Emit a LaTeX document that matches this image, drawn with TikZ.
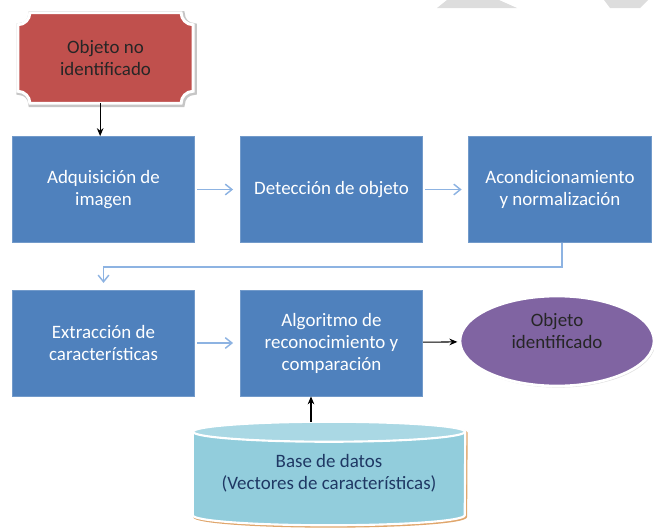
\documentclass[tikz,border=0pt]{standalone}
\usepackage{fontspec}
\setmainfont{Carlito}
\usetikzlibrary{arrows.meta,shapes.geometric,calc,backgrounds,shadows}
\definecolor{cajaazul}{RGB}{79,129,189}
\definecolor{flechaazul}{RGB}{141,179,226}
\definecolor{rojoplaca}{RGB}{192,80,77}
\definecolor{morado}{RGB}{128,100,162}
\definecolor{cielo}{RGB}{146,205,220}
\definecolor{cielotapa}{RGB}{170,216,228}
\definecolor{marino}{RGB}{31,56,100}
\definecolor{marca}{RGB}{221,221,221}
\tikzset{
  texto/.style={align=center,font=\fontsize{14.2}{16.5}\selectfont},
  caja/.style={texto,rectangle,fill=cajaazul,draw=cajaazul!80!white,line width=0.6pt,text=white,minimum width=137pt,minimum height=79.5pt},
  placa/.style={texto,rectangle,text=black!85,minimum width=131pt,minimum height=67.5pt},
  resultado/.style={texto,ellipse,fill=morado,draw=white,line width=2pt,text=black!85,minimum width=145.5pt,minimum height=67.5pt,inner sep=0pt,
    drop shadow={opacity=0.25,shadow xshift=1pt,shadow yshift=-1.2pt}},
  base/.style={texto,rectangle,text=marino,minimum width=204pt,minimum height=77.25pt},
  flechaclara/.style={draw=flechaazul,line width=1.1pt,-{Straight Barb[length=5pt,width=8pt]}},
  flechanegra/.style={draw=black,line width=0.8pt,-{Stealth[length=6pt,width=5pt]}}
}
\begin{document}
\begin{tikzpicture}[x=0.75pt,y=0.75pt]
  \useasboundingbox (0,0) rectangle (654,-529);
  \fill[marca] (447,0) -- (499,0) -- (517,-8) -- (437,-8) -- cycle;
  \fill[marca] (604,0) -- (648,0) -- (640,-8) -- (610,-8) -- cycle;
  % nodos
  \node[placa] (obj) at (105.5,-58) {Objeto no\\identificado};
  \node[caja] (b1) at (103.5,-189.5) {Adquisición de\\imagen};
  \node[caja] (b2) at (331.5,-189.5) {Detección de objeto};
  \node[caja] (b3) at (560,-189.5) {Acondicionamiento\\y normalización};
  \node[caja] (b4) at (103.5,-343) {Extracción de\\características};
  \node[caja] (b5) at (331.5,-343) {Algoritmo de\\reconocimiento y\\comparación};
  \node[resultado,text depth=15pt] (ident) at (557,-341) {Objeto\\identificado};
  \node[base] (db) at (329,-473.5) {Base de datos\\(Vectores de características)};
  % formas de fondo
  \begin{scope}[on background layer]
    \def\r{9pt}
    \path[fill=rojoplaca,draw=white,line width=2.2pt,
      preaction={draw=gray!45,line width=4pt,transform canvas={shift={(0.8pt,-0.8pt)}}}]
      ($(obj.north west)+(\r,0)$) -- ($(obj.north east)+(-\r,0)$)
      arc[start angle=180,end angle=270,radius=\r] -- ($(obj.south east)+(0,\r)$)
      arc[start angle=90,end angle=180,radius=\r] -- ($(obj.south west)+(\r,0)$)
      arc[start angle=0,end angle=90,radius=\r] -- ($(obj.north west)+(0,-\r)$)
      arc[start angle=270,end angle=360,radius=\r] -- cycle;
    \path[fill=cielo,draw=white,line width=1.6pt,
      preaction={draw=brown!70!orange!70,line width=1.6pt,transform canvas={shift={(1pt,-1pt)}}}]
      ($(db.north west)+(0,-7.5pt)$) -- ($(db.south west)+(0,7.5pt)$)
      arc[start angle=180,end angle=360,x radius=102pt,y radius=7.5pt] -- ($(db.north east)+(0,-7.5pt)$)
      arc[start angle=0,end angle=180,x radius=102pt,y radius=7.5pt] -- cycle;
    \path[fill=cielotapa,draw=white,line width=1.6pt] ($(db.north)+(0,-7.5pt)$) ellipse[x radius=102pt,y radius=7.5pt];
  \end{scope}
  % conectores
  \draw[flechanegra] ([xshift=-4pt]obj.south) -- ([xshift=-4pt]obj.south |- b1.north);
  \draw[flechaclara,shorten <=1.5pt,shorten >=5pt] (b1) -- (b2);
  \draw[flechaclara,shorten <=1.5pt,shorten >=5pt] (b2) -- (b3);
  \draw[flechaclara,shorten >=5pt] ([xshift=1.5pt]b3.south) -- ++(0,-24) -| (b4.north);
  \draw[flechaclara,shorten <=1.5pt,shorten >=5pt] (b4) -- (b5);
  \draw[flechanegra,shorten >=1pt] (b5) -- (ident);
  \draw[flechanegra] ([xshift=-13.5pt]db.north) -- ([xshift=-13.5pt]db.north |- b5.south);
\end{tikzpicture}
\end{document}
